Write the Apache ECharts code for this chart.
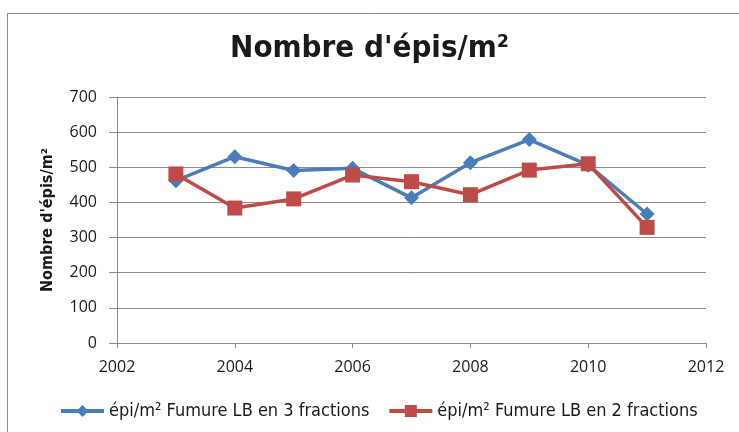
<!DOCTYPE html>
<html><head><meta charset="utf-8">
<script src="https://cdn.jsdelivr.net/npm/echarts@6/dist/echarts.min.js"></script>
<style>html,body{margin:0;padding:0;background:#fff}#c{width:739px;height:432px}</style>
</head><body><div id="c"></div>
<script>
const years = [2003, 2004, 2005, 2006, 2007, 2008, 2009, 2010, 2011];
const fractions3 = [462, 530, 491, 497, 413, 513, 579, 506, 367];
const fractions2 = [481, 384, 410, 478, 459, 422, 492, 510, 329];
const seriesNames = ['épi/m² Fumure LB en 3 fractions', 'épi/m² Fumure LB en 2 fractions'];
const FONT = "'Liberation Sans Narrow', 'DejaVu Sans Condensed', sans-serif";
const TICKFONT = "'Open Sans', 'DejaVu Sans', sans-serif";
const chart = echarts.init(document.getElementById('c'));
chart.setOption({
  animation: false,
  textStyle: {fontFamily: FONT},
  graphic: [{type: 'rect', shape: {x: 7.5, y: 13.5, width: 760, height: 440}, style: {fill: 'none', stroke: '#8c8c8c', lineWidth: 1}}],
  title: {text: "Nombre d'épis/m²", left: 'center', top: 28, textStyle: {fontFamily: FONT, fontSize: 31, fontWeight: 'bold', color: '#1a1a1a'}},
  grid: {left: 117, right: 33, top: 97, bottom: 89},
  legend: {top: 402, left: 59, padding: 0, itemWidth: 43, itemHeight: 15, itemGap: 18, lineStyle: {width: 4},
    textStyle: {fontFamily: FONT, fontSize: 18, color: '#1a1a1a'}, data: seriesNames},
  xAxis: {type: 'value', min: 2002, max: 2012, interval: 2,
    axisLine: {lineStyle: {color: '#8c8c8c'}}, axisTick: {show: true, length: 5, lineStyle: {color: '#8c8c8c'}},
    splitLine: {show: false}, axisLabel: {color: '#1a1a1a', fontSize: 16, margin: 16, fontFamily: TICKFONT, formatter: v => String(v)}},
  yAxis: {type: 'value', min: 0, max: 700, interval: 100, name: "Nombre d'épis/m²", nameLocation: 'middle', nameGap: 61,
    nameTextStyle: {fontFamily: FONT, fontWeight: 'bold', fontSize: 16, color: '#1a1a1a'},
    axisLine: {show: true, lineStyle: {color: '#8c8c8c'}}, axisTick: {show: true, length: 8, lineStyle: {color: '#8c8c8c'}},
    splitLine: {lineStyle: {color: '#8c8c8c'}}, axisLabel: {color: '#1a1a1a', fontSize: 16, margin: 20, fontFamily: TICKFONT}},
  series: [
    {name: seriesNames[0], type: 'line', data: years.map((y, i) => [y, fractions3[i]]), symbol: 'diamond', symbolSize: 15,
      lineStyle: {color: '#4A7EBB', width: 3.5}, itemStyle: {color: '#4A7EBB'}},
    {name: seriesNames[1], type: 'line', data: years.map((y, i) => [y, fractions2[i]]), symbol: 'rect', symbolSize: 15,
      lineStyle: {color: '#BE4B48', width: 3.5}, itemStyle: {color: '#BE4B48'}}
  ]
});
</script></body></html>
